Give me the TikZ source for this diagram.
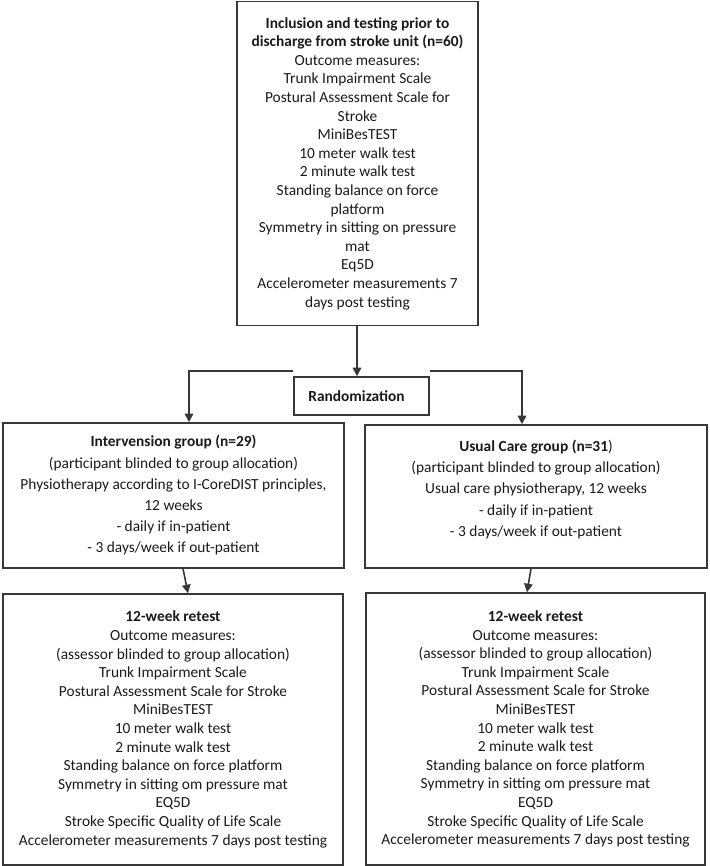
\documentclass[tikz,border=0pt]{standalone}
\usepackage{fontspec}
\setmainfont{Carlito}
\usetikzlibrary{arrows.meta}
\definecolor{edge}{HTML}{383838}
\definecolor{ink}{HTML}{1A1A1A}
\tikzset{
  box/.style={draw=edge, line width=1.6pt, rectangle, inner sep=0pt, align=center, text=ink,
    font=\fontsize{15.4}{18.6}\selectfont},
  wide/.style={font=\fontsize{15.4}{21.2}\selectfont},
  plain/.style={inner sep=0pt, align=center, text=ink, font=\fontsize{15.4}{21.2}\selectfont},
  arr/.style={draw=edge, line width=1.6pt, -{Triangle[length=8.5pt,width=8.5pt]}},
}
\begin{document}
\begin{tikzpicture}[x=1pt,y=-1pt]
\useasboundingbox (0,0) rectangle (709,866);
\node[box, minimum width=241pt, minimum height=324pt] (top) at (357.5,163.5)
 {\textbf{Inclusion and testing prior to}\\
  \textbf{discharge from stroke unit (n=60)}\\
  Outcome measures:\\
  Trunk Impairment Scale\\
  Postural Assessment Scale for\\
  Stroke\\
  MiniBesTEST\\
  10 meter walk test\\
  2 minute walk test\\
  Standing balance on force\\
  platform\\
  Symmetry in sitting on pressure\\
  mat\\
  Eq5D\\
  Accelerometer measurements 7\\
  days post testing};
\node[box, minimum width=135pt, minimum height=38pt] (rand) at (361.5,396)
 {\textbf{Randomization}\hspace*{10pt}};
\node[box, wide, minimum width=341pt, minimum height=145pt] (int) at (173.5,495.5)
 {\textbf{Intervension group (n=29)}\\
  (participant blinded to group allocation)\\
  Physiotherapy according to I-CoreDIST principles,\\
  12 weeks\\
  - daily if in-patient\\
  - 3 days/week if out-patient};
\node[box, minimum width=342pt, minimum height=143pt] (usual) at (536,496.5) {};
\node[plain] (usualtext) at (536,489.5)
 {\textbf{Usual Care group (n=31})\\
  (participant blinded to group allocation)\\
  Usual care physiotherapy, 12 weeks\\
  - daily if in-patient\\
  - 3 days/week if out-patient};
\node[box, minimum width=340pt, minimum height=271pt] (ret1) at (173,729.5)
 {\textbf{12-week retest}\\
  Outcome measures:\\
  (assessor blinded to group allocation)\\
  Trunk Impairment Scale\\
  Postural Assessment Scale for Stroke\\
  MiniBesTEST\\
  10 meter walk test\\
  2 minute walk test\\
  Standing balance on force platform\\
  Symmetry in sitting om pressure mat\\
  EQ5D\\
  Stroke Specific Quality of Life Scale\\
  Accelerometer measurements 7 days post testing};
\node[box, minimum width=339pt, minimum height=272pt] (ret2) at (535.5,729)
 {\textbf{12-week retest}\\
  Outcome measures:\\
  (assessor blinded to group allocation)\\
  Trunk Impairment Scale\\
  Postural Assessment Scale for Stroke\\
  MiniBesTEST\\
  10 meter walk test\\
  2 minute walk test\\
  Standing balance on force platform\\
  Symmetry in sitting om pressure mat\\
  EQ5D\\
  Stroke Specific Quality of Life Scale\\
  Accelerometer measurements 7 days post testing};
\coordinate (xa) at (357,0);
\coordinate (xl) at (189,0);
\coordinate (xr) at (522,0);
\coordinate (x1a) at (183,0);
\coordinate (x1b) at (188,0);
\coordinate (x2a) at (531,0);
\coordinate (x2b) at (527,0);
\draw[arr] (top.south -| xa) -- (rand.north -| xa);
\draw[arr] ([yshift=5pt]rand.north west) -| (int.north -| xl);
\draw[arr] ([yshift=5pt]rand.north east) -| (usual.north -| xr);
\draw[arr] (int.south -| x1a) -- (ret1.north -| x1b);
\draw[arr] (usual.south -| x2a) -- (ret2.north -| x2b);
\end{tikzpicture}
\end{document}
